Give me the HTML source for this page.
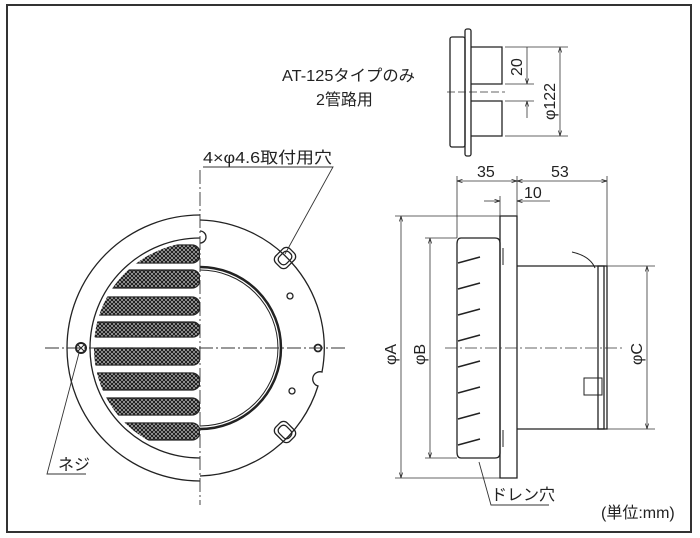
<!DOCTYPE html>
<html><head><meta charset="utf-8"><style>
html,body{margin:0;padding:0;background:#fff;}
svg{display:block;}
text{font-family:"Liberation Sans","Noto Sans CJK JP",sans-serif;fill:#222;}
</style></head><body>
<svg width="700" height="538" viewBox="0 0 700 538" xmlns="http://www.w3.org/2000/svg">
<defs>
<pattern id="mesh" width="4" height="4" patternUnits="userSpaceOnUse">
<rect width="4" height="4" fill="#fff"/>
<path d="M0 0L4 4M4 0L0 4" stroke="#222" stroke-width="1.5"/>
</pattern>
<clipPath id="lh"><rect x="0" y="0" width="200" height="538"/></clipPath>
<clipPath id="inner"><circle cx="200" cy="348" r="106"/></clipPath>
<marker id="ar" viewBox="0 0 10 10" refX="10" refY="5" markerWidth="7" markerHeight="7" orient="auto-start-reverse"><path d="M0 2L10 5L0 8" fill="none" stroke="#222" stroke-width="1.2"/></marker>
</defs>
<rect x="7" y="5" width="684" height="527" fill="none" stroke="#333" stroke-width="2"/>

<g clip-path="url(#lh)" fill="none" stroke="#222" stroke-width="1.3">
<circle cx="200" cy="348" r="133" fill="#fff"/>
<circle cx="200" cy="348" r="110"/>
<g clip-path="url(#inner)" stroke-width="1.2">
<rect x="100" y="245" width="100" height="18" rx="8" fill="url(#mesh)"/>
<rect x="95" y="270" width="105" height="18" rx="8" fill="url(#mesh)"/>
<rect x="90" y="297" width="110" height="18" rx="8" fill="url(#mesh)"/>
<rect x="90" y="322" width="110" height="15" rx="7" fill="url(#mesh)"/>
<rect x="90" y="348" width="110" height="17" rx="7" fill="url(#mesh)"/>
<rect x="90" y="373" width="110" height="17" rx="8" fill="url(#mesh)"/>
<rect x="95" y="398" width="105" height="17" rx="8" fill="url(#mesh)"/>
<rect x="100" y="423" width="100" height="17" rx="8" fill="url(#mesh)"/>
</g>
<circle cx="81" cy="348" r="5" stroke-width="2"/>
<path d="M78 345l6 6M84 345l-6 6" stroke-width="1"/>
</g>
<g fill="none" stroke="#222" stroke-width="1.3">
<path d="M200 220 A128 128 0 0 1 322 372 A7 7 0 0 0 318 386 A128 128 0 0 1 200 476"/>
<path d="M200 231 a6 6 0 0 1 0 12" />
<path d="M200 267 A81 81 0 0 1 200 429" stroke-width="2.5"/>
<path d="M200 270 A78 78 0 0 1 200 426" stroke-width="1"/>
<g transform="translate(285 258) rotate(45)"><rect x="-8" y="-10" width="16" height="20" rx="5"/><rect x="-5" y="-7" width="10" height="14" rx="4"/></g>
<g transform="translate(285 432) rotate(-45)"><rect x="-8" y="-10" width="16" height="20" rx="5"/><rect x="-5" y="-7" width="10" height="14" rx="4"/></g>
<circle cx="290" cy="296" r="3"/>
<circle cx="292" cy="391" r="3"/>
<circle cx="318" cy="348" r="3.5" stroke-width="1.8"/>
</g>
<g stroke="#333" stroke-width="0.9" stroke-dasharray="14 3 2 3" fill="none">
<line x1="200" y1="170" x2="200" y2="505"/>
<line x1="45" y1="348" x2="345" y2="348"/>
</g>
<text x="203" y="163" font-size="16" textLength="129" lengthAdjust="spacingAndGlyphs">4×φ4.6取付用穴</text>
<path d="M203 167H333L285 254" fill="none" stroke="#333" stroke-width="0.9"/>
<text x="58" y="470" font-size="16">ネジ</text>
<path d="M86 474H47L79 353" fill="none" stroke="#333" stroke-width="0.9"/>

<text x="282" y="81" font-size="16" textLength="133" lengthAdjust="spacingAndGlyphs">AT-125タイプのみ</text>
<text x="316" y="105" font-size="16">2管路用</text>
<g fill="none" stroke="#222" stroke-width="1.3">
<rect x="450" y="37" width="15" height="110" rx="2"/>
<rect x="465" y="29" width="6" height="127" rx="2"/>
<path d="M471 47H502V84H471M471 101H502V136H471"/>
</g>
<g stroke="#333" stroke-width="0.8" fill="none">
<line x1="447" y1="92" x2="505" y2="92" stroke-dasharray="8 3"/>
<path d="M505 47H568M505 84H534M505 101H534M505 136H568"/>
<line x1="527" y1="47" x2="527" y2="84" marker-end="url(#ar)"/>
<line x1="527" y1="118" x2="527" y2="101" marker-end="url(#ar)"/>
<line x1="560" y1="47" x2="560" y2="136" marker-start="url(#ar)" marker-end="url(#ar)"/>
</g>
<text transform="translate(522 76) rotate(-90)" font-size="16">20</text>
<text transform="translate(555 120) rotate(-90)" font-size="16">φ122</text>

<g fill="none" stroke="#222" stroke-width="1.3">
<path d="M500 216H517V478H500Z"/>
<path d="M461 238H495Q500 238 500 243V453Q500 458 495 458H461Q457 458 457 452V244Q457 238 461 238Z"/>
<path d="M517 266H604V429H517"/>
<rect x="598" y="266" width="9" height="163"/>
<path d="M503 248V265M503 430V447" stroke-width="1"/>
<rect x="584" y="378" width="18" height="17" stroke-width="1"/>
<path d="M572 252Q590 256 595 268" stroke-width="1"/>
<g stroke-width="1.5">
<path d="M458 263L480 257M458 289L480 283M458 315L480 309M458 341L480 335M458 367L480 361M458 393L480 387M458 419L480 413M458 445L480 439"/>
</g>
</g>
<g stroke="#333" stroke-width="0.8" fill="none">
<line x1="445" y1="348" x2="625" y2="348" stroke-dasharray="12 3 2 3"/>
<path d="M457 176V238M517 176V216M607 176V266M500 196V216"/>
<line x1="457" y1="181" x2="517" y2="181" marker-start="url(#ar)" marker-end="url(#ar)"/>
<line x1="517" y1="181" x2="607" y2="181" marker-start="url(#ar)" marker-end="url(#ar)"/>
<line x1="484" y1="201" x2="500" y2="201" marker-end="url(#ar)"/>
<line x1="550" y1="201" x2="517" y2="201" marker-end="url(#ar)"/>
<path d="M395 216H500M395 478H500M425 238H457M425 458H457M607 266H655M607 429H655"/>
<line x1="401" y1="216" x2="401" y2="478" marker-start="url(#ar)" marker-end="url(#ar)"/>
<line x1="430" y1="238" x2="430" y2="458" marker-start="url(#ar)" marker-end="url(#ar)"/>
<line x1="647" y1="266" x2="647" y2="429" marker-start="url(#ar)" marker-end="url(#ar)"/>
</g>
<text x="477" y="177" font-size="16">35</text>
<text x="551" y="177" font-size="16">53</text>
<text x="524" y="198" font-size="16">10</text>
<text transform="translate(396 365) rotate(-90)" font-size="16">φA</text>
<text transform="translate(425 365) rotate(-90)" font-size="16">φB</text>
<text transform="translate(642 365) rotate(-90)" font-size="16">φC</text>
<text x="491" y="500" font-size="16">ドレン穴</text>
<path d="M479 462L491 505H549" fill="none" stroke="#333" stroke-width="0.9"/>
<text x="601" y="518" font-size="16">(単位:mm)</text>
</svg>
</body></html>
